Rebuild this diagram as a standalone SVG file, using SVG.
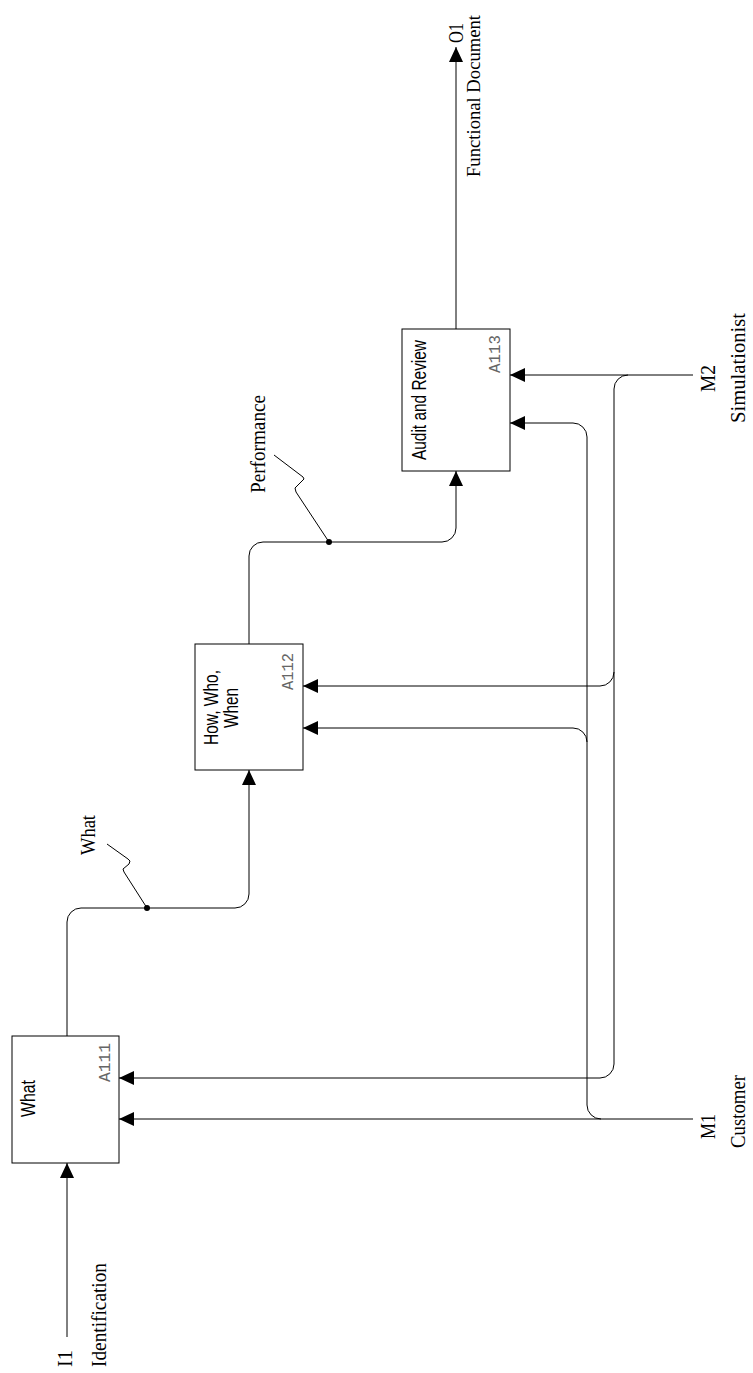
<svg xmlns="http://www.w3.org/2000/svg" width="753" height="1373" viewBox="0 0 753 1373">
<style>
.box{fill:#fff;stroke:#000;stroke-width:1}
.ln{fill:none;stroke:#000;stroke-width:1}
.lnA{fill:none;stroke:#000;stroke-width:1;marker-end:url(#arr)}
.sans{font-family:"Liberation Sans",Arial,sans-serif;font-size:21px;fill:#000}
.mono{font-family:"Liberation Mono","Courier New",monospace;font-size:16px;fill:#666}
.serif{font-family:"Liberation Serif","Times New Roman",serif;font-size:21px;fill:#000}
</style>
<defs>
<marker id="arr" markerUnits="userSpaceOnUse" markerWidth="15" markerHeight="14" refX="15" refY="7" orient="auto">
<path d="M0,0 L15,7 L0,14 Z" fill="#000"/>
</marker>
</defs>
<rect width="753" height="1373" fill="#fff"/>

<g id="connectors">
<path class="lnA" d="M67,1337 V1163"/>
<path class="lnA" d="M67,1036 V922 A14,14 0 0 1 81,908 H235 A14,14 0 0 0 249,894 V770"/>
<path class="lnA" d="M249,644 V556 A14,14 0 0 1 263,542 H442 A14,14 0 0 0 456,528 V471"/>
<path class="lnA" d="M456,329 V47"/>
<path class="lnA" d="M693,375 H510"/>
<path class="lnA" d="M628,375 A14,14 0 0 0 614,389 V1064 A14,14 0 0 1 600,1078 H119"/>
<path class="lnA" d="M614,672 A14,14 0 0 1 600,686 H303"/>
<path class="lnA" d="M693,1119 H119"/>
<path class="lnA" d="M601,1119 A14,14 0 0 1 587,1105 V437 A14,14 0 0 0 573,423 H510"/>
<path class="lnA" d="M587,742 A14,14 0 0 0 573,728 H303"/>
<circle cx="147" cy="908" r="3" fill="#000"/>
<circle cx="329" cy="542" r="3" fill="#000"/>
<path class="ln" d="M147,908 L124,872 L123,869 L129,864 L130,861 L128,859 L107,844"/>
<path class="ln" d="M329,542 L296,492 L295,488 L304,479 L303,477 L274,455"/>
<text class="serif" transform="translate(72,1367) rotate(-90)" textLength="17" lengthAdjust="spacingAndGlyphs">I1</text>
<text class="serif" transform="translate(106,1367) rotate(-90)" textLength="104" lengthAdjust="spacingAndGlyphs">Identification</text>
<text class="serif" transform="translate(95,855) rotate(-90)" textLength="40" lengthAdjust="spacingAndGlyphs">What</text>
<text class="serif" transform="translate(265,493) rotate(-90)" textLength="98" lengthAdjust="spacingAndGlyphs">Performance</text>
<text class="serif" transform="translate(463,43) rotate(-90)" textLength="20" lengthAdjust="spacingAndGlyphs">O1</text>
<text class="serif" style="font-size:19px" transform="translate(480,177) rotate(-90)" textLength="162" lengthAdjust="spacingAndGlyphs">Functional Document</text>
<text class="serif" transform="translate(715,1139) rotate(-90)" textLength="25" lengthAdjust="spacingAndGlyphs">M1</text>
<text class="serif" transform="translate(745,1148) rotate(-90)" textLength="73" lengthAdjust="spacingAndGlyphs">Customer</text>
<text class="serif" transform="translate(715,392) rotate(-90)" textLength="27" lengthAdjust="spacingAndGlyphs">M2</text>
<text class="serif" transform="translate(745,423) rotate(-90)" textLength="110" lengthAdjust="spacingAndGlyphs">Simulationist</text>
</g>

<g id="A111">
<rect class="box" x="12" y="1036" width="107" height="127"/>
<text class="sans" transform="translate(35,1117) rotate(-90)" textLength="37" lengthAdjust="spacingAndGlyphs">What</text>
<text class="mono" transform="translate(110,1082) rotate(-90)" textLength="39" lengthAdjust="spacingAndGlyphs">A111</text>
</g>

<g id="A112">
<rect class="box" x="195" y="644" width="108" height="126"/>
<text class="sans" transform="translate(218,745) rotate(-90)" textLength="75" lengthAdjust="spacingAndGlyphs">How, Who,</text>
<text class="sans" transform="translate(238,728) rotate(-90)" textLength="40" lengthAdjust="spacingAndGlyphs">When</text>
<text class="mono" transform="translate(293,690) rotate(-90)" textLength="37" lengthAdjust="spacingAndGlyphs">A112</text>
</g>

<g id="A113">
<rect class="box" x="402" y="329" width="108" height="142"/>
<text class="sans" transform="translate(426,460) rotate(-90)" textLength="120" lengthAdjust="spacingAndGlyphs">Audit and Review</text>
<text class="mono" transform="translate(500,373) rotate(-90)" textLength="38" lengthAdjust="spacingAndGlyphs">A113</text>
</g>
</svg>
